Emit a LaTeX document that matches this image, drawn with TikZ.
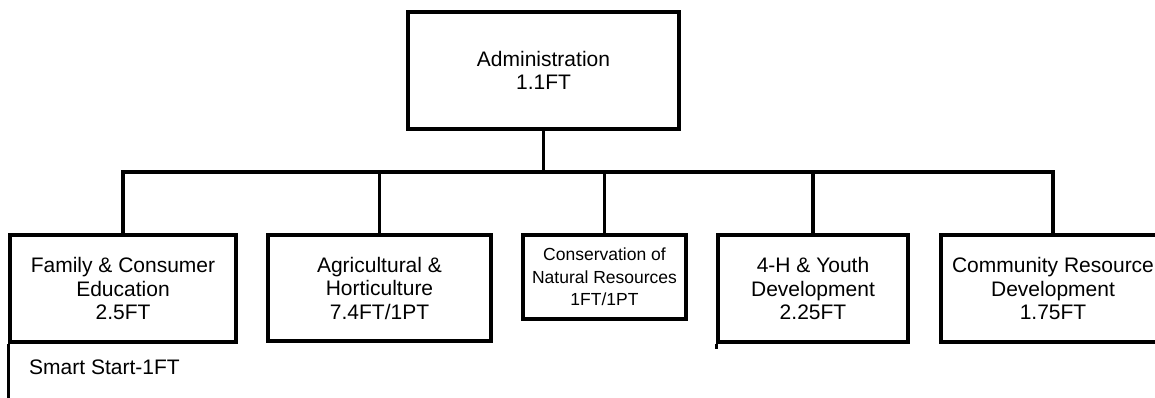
\documentclass[tikz,border=0pt]{standalone}
\usepackage{fontspec}
\setmainfont{Liberation Sans}
\begin{document}
\begin{tikzpicture}[x=1pt,y=-1pt,
  unitbox/.style={draw=black, line width=3.4pt, rectangle, inner sep=0pt, align=center,
    font=\fontsize{21}{23.5}\selectfont},
  smallbox/.style={unitbox, font=\fontsize{17.5}{22.5}\selectfont},
  link/.style={draw=black, line width=3.4pt}]
\useasboundingbox (0,0) rectangle (1155,398);
\begin{scope}
\clip (0,0) rectangle (1155,398);
\node[unitbox, minimum width=271pt, minimum height=117pt] (admin) at (543.5,70.5) {Administration\\1.1FT};
\node[unitbox, minimum width=226pt, minimum height=107pt] (fam) at (123,288.5) {Family \& Consumer\\Education\\2.5FT};
\node[unitbox, minimum width=223pt, minimum height=106pt] (agri) at (379.5,288) {Agricultural \&\\Horticulture\\7.4FT/1PT};
\node[smallbox, minimum width=163pt, minimum height=84pt] (cons) at (604.5,277) {Conservation of\\Natural Resources\\1FT/1PT};
\node[unitbox, minimum width=190pt, minimum height=107pt] (youth) at (813,288.5) {4-H \& Youth\\Development\\2.25FT};
\node[unitbox, minimum width=224pt, minimum height=107pt] (crd) at (1053,288.5) {Community Resource\\Development\\1.75FT};
\node[anchor=west, inner sep=0pt, font=\fontsize{21}{23.5}\selectfont] (smart) at (29,367) {Smart Start-1FT};
\coordinate (bus) at (0,172);
\coordinate (bottom) at (0,400);
\draw[link] (admin.south) -- (admin.south |- bus);
\draw[link] (fam.north) -- (fam.north |- bus) -- (crd.north |- bus) -- (crd.north);
\draw[link] (agri.north) -- (agri.north |- bus);
\draw[link] (cons.north) -- (cons.north |- bus);
\draw[link] (youth.north) -- (youth.north |- bus);
\draw[link] (fam.south west) -- (fam.south west |- bottom);
\draw[link] (youth.south west) -- ++(0,5);
\end{scope}
\end{tikzpicture}
\end{document}
